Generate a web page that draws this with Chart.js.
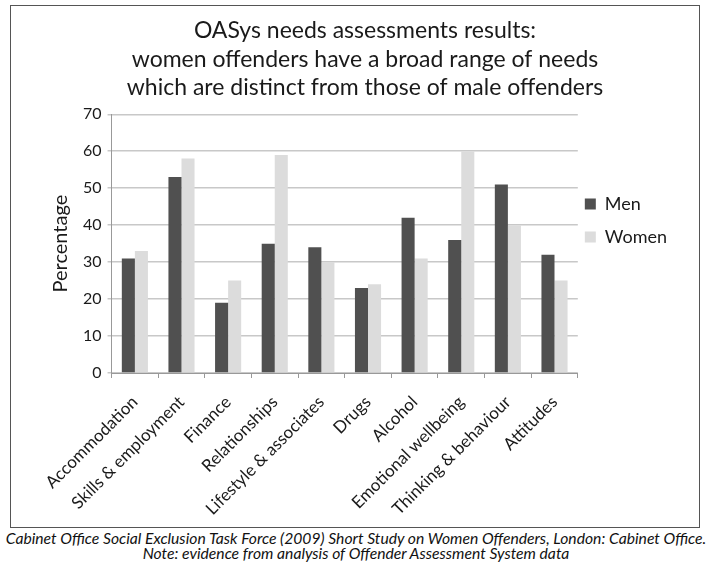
<!DOCTYPE html>
<html>
<head>
<meta charset="utf-8">
<script src="https://cdn.jsdelivr.net/npm/chart.js@4.4.0/dist/chart.umd.min.js"></script>
<style>
  body { margin: 0; background: #fff; width: 712px; height: 573px; position: relative; font-family: Lato, "Open Sans", sans-serif; }
  #box { position: absolute; left: 10px; top: 5px; width: 688px; height: 521px; border: 1.5px solid #555; }
  #caption { position: absolute; left: 0; top: 531px; width: 712px; text-align: center; font-style: italic; font-size: 15.7px; line-height: 15px; color: #111; white-space: nowrap; }
</style>
</head>
<body>
<div id="box"><canvas id="myChart" width="688" height="521"></canvas></div>
<div id="caption">Cabinet Office Social Exclusion Task Force (2009) Short Study on Women Offenders, London: Cabinet Office.<br>Note: evidence from analysis of Offender Assessment System data</div>
<script>
const categories = ['Accommodation', 'Skills & employment', 'Finance', 'Relationships', 'Lifestyle & associates',
    'Drugs', 'Alcohol', 'Emotional wellbeing', 'Thinking & behaviour', 'Attitudes']
const menValues = [31, 53, 19, 35, 34, 23, 42, 36, 51, 32]
const womenValues = [33, 58, 25, 59, 30, 24, 31, 60, 40, 25]
const titleLines = ['OASys needs assessments results:',
    'women offenders have a broad range of needs',
    'which are distinct from those of male offenders']

// move the legend up and left a bit, like the original
const legendShift = {
    id: 'legendShift',
    afterLayout: (chart) => {
        const lg = chart.legend
        lg.top -= 49
        lg.bottom -= 49
        lg.left -= 8
        lg.right -= 8
    }
}

const ctx = document.getElementById('myChart')
new Chart(ctx, {
    type: 'bar',
    data: {
        labels: categories,
        datasets: [{
            label: 'Men',
            data: menValues,
            backgroundColor: '#505050',
            barPercentage: 1,
            categoryPercentage: 0.56,
        }, {
            label: 'Women',
            data: womenValues,
            backgroundColor: '#dcdcdc',
            barPercentage: 1,
            categoryPercentage: 0.56,
        }]
    },
    plugins: [legendShift],
    options: {
        responsive: false,
        animation: false,
        layout: { padding: { left: 34, right: 14, top: 6, bottom: 0 } },
        plugins: {
            title: {
                display: true,
                text: titleLines,
                color: '#1a1a1a',
                font: { family: 'Lato', size: 23, weight: 'normal', lineHeight: 1.25 },
                padding: { top: 4, bottom: 12 }
            },
            legend: {
                position: 'right',
                labels: {
                    color: '#1a1a1a',
                    font: { family: 'Lato', size: 18 },
                    boxWidth: 11,
                    boxHeight: 11,
                    padding: 15
                }
            },
            tooltip: { enabled: false }
        },
        scales: {
            x: {
                afterFit: (scale) => { scale.height = 154 },
                grid: { drawOnChartArea: false, color: '#999', tickLength: 5 },
                border: { color: '#999' },
                ticks: {
                    color: '#1a1a1a',
                    font: { family: 'Lato', size: 17 },
                    maxRotation: 45,
                    minRotation: 45,
                    padding: 14
                }
            },
            y: {
                min: 0,
                max: 70,
                ticks: { stepSize: 10, color: '#1a1a1a', font: { family: 'Lato', size: 16 }, padding: 6 },
                grid: { color: '#c8c8c8', lineWidth: 1.5, tickLength: 4 },
                border: { color: '#999' },
                title: {
                    display: true,
                    text: 'Percentage',
                    color: '#1a1a1a',
                    font: { family: 'Lato', size: 20 },
                    padding: 4
                }
            }
        }
    }
})
</script>
</body>
</html>
